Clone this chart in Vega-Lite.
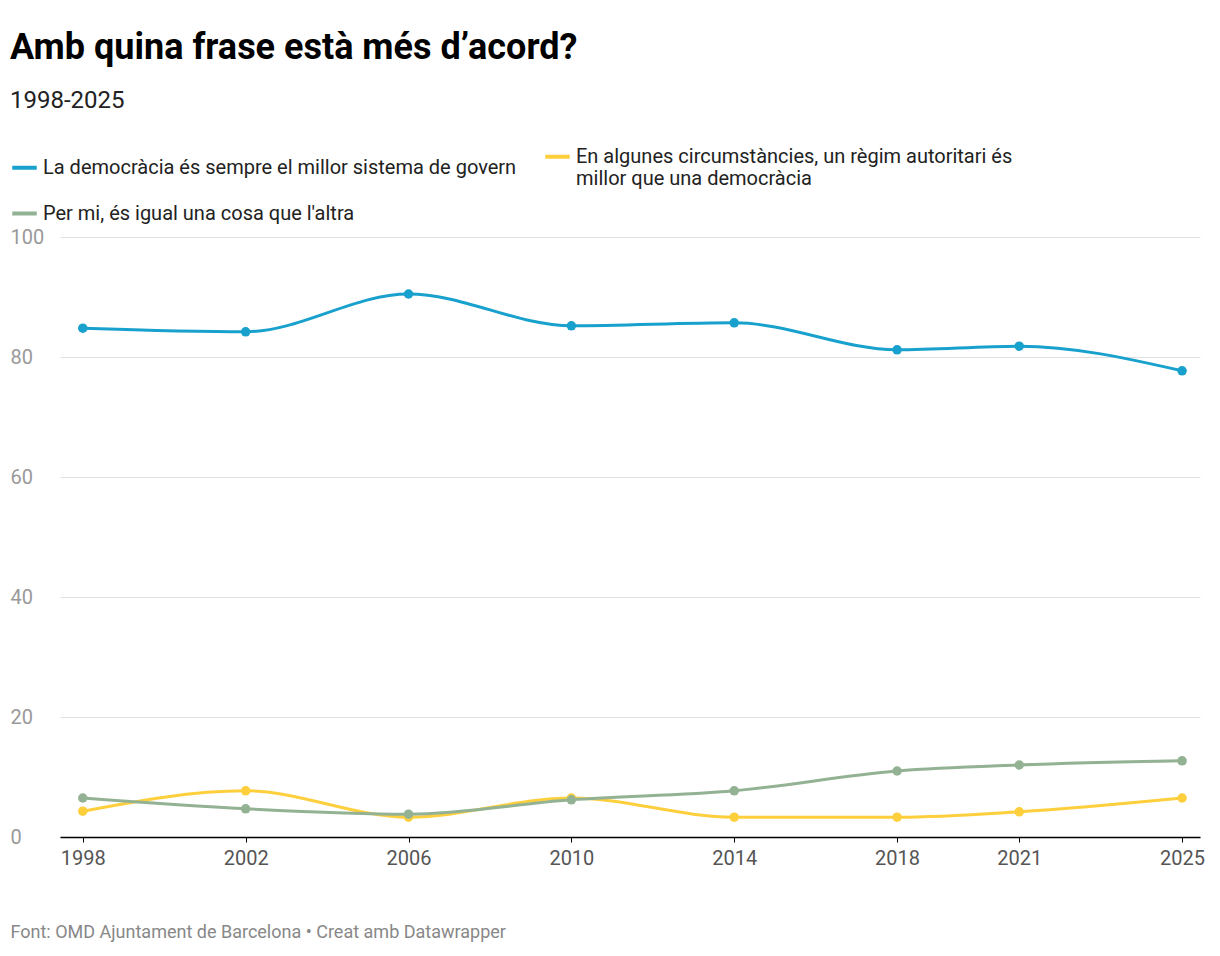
{
  "$schema": "https://vega.github.io/schema/vega-lite/v6.json",
  "autosize": "none",
  "width": 1140,
  "height": 600,
  "padding": {"left": 60, "top": 237, "right": 20, "bottom": 119},
  "background": "white",
  "config": {"view": {"stroke": null}, "font": "Roboto"},
  "title": {
    "text": "Amb quina frase està més d’acord?",
    "subtitle": "1998-2025",
    "anchor": "start",
    "frame": "group",
    "dx": -50,
    "offset": 28,
    "fontSize": 36,
    "fontWeight": "bold",
    "color": "#000",
    "subtitleFontSize": 24,
    "subtitleColor": "#222",
    "subtitlePadding": 22
  },
  "data": {
    "values": [
      {"any": 1998, "s": "La democràcia és sempre el millor sistema de govern", "v": 84.8},
      {"any": 2002, "s": "La democràcia és sempre el millor sistema de govern", "v": 84.2},
      {"any": 2006, "s": "La democràcia és sempre el millor sistema de govern", "v": 90.5},
      {"any": 2010, "s": "La democràcia és sempre el millor sistema de govern", "v": 85.2},
      {"any": 2014, "s": "La democràcia és sempre el millor sistema de govern", "v": 85.7},
      {"any": 2018, "s": "La democràcia és sempre el millor sistema de govern", "v": 81.2},
      {"any": 2021, "s": "La democràcia és sempre el millor sistema de govern", "v": 81.8},
      {"any": 2025, "s": "La democràcia és sempre el millor sistema de govern", "v": 77.7},
      {"any": 1998, "s": "En algunes circumstàncies, un règim autoritari és millor que una democràcia", "v": 4.3},
      {"any": 2002, "s": "En algunes circumstàncies, un règim autoritari és millor que una democràcia", "v": 7.7},
      {"any": 2006, "s": "En algunes circumstàncies, un règim autoritari és millor que una democràcia", "v": 3.3},
      {"any": 2010, "s": "En algunes circumstàncies, un règim autoritari és millor que una democràcia", "v": 6.5},
      {"any": 2014, "s": "En algunes circumstàncies, un règim autoritari és millor que una democràcia", "v": 3.3},
      {"any": 2018, "s": "En algunes circumstàncies, un règim autoritari és millor que una democràcia", "v": 3.3},
      {"any": 2021, "s": "En algunes circumstàncies, un règim autoritari és millor que una democràcia", "v": 4.2},
      {"any": 2025, "s": "En algunes circumstàncies, un règim autoritari és millor que una democràcia", "v": 6.5},
      {"any": 1998, "s": "Per mi, és igual una cosa que l'altra", "v": 6.5},
      {"any": 2002, "s": "Per mi, és igual una cosa que l'altra", "v": 4.7},
      {"any": 2006, "s": "Per mi, és igual una cosa que l'altra", "v": 3.8},
      {"any": 2010, "s": "Per mi, és igual una cosa que l'altra", "v": 6.2},
      {"any": 2014, "s": "Per mi, és igual una cosa que l'altra", "v": 7.7},
      {"any": 2018, "s": "Per mi, és igual una cosa que l'altra", "v": 11.0},
      {"any": 2021, "s": "Per mi, és igual una cosa que l'altra", "v": 12.0},
      {"any": 2025, "s": "Per mi, és igual una cosa que l'altra", "v": 12.7}
    ]
  },
  "encoding": {
    "x": {
      "field": "any", "type": "quantitative",
      "scale": {"domain": [1997.44, 2025.44], "nice": false, "zero": false},
      "axis": {
        "values": [1998, 2002, 2006, 2010, 2014, 2018, 2021, 2025],
        "format": "d", "grid": false, "domainColor": "#000", "domainWidth": 1.5,
        "tickColor": "#000", "tickSize": 5, "labelFontSize": 20, "labelColor": "#555",
        "labelPadding": 6,
        "title": "Font: OMD Ajuntament de Barcelona • Creat amb Datawrapper",
        "titleAnchor": "start", "titleX": -50, "titleY": 86, "titleAlign": "left",
        "titleFontSize": 18, "titleFontWeight": "normal", "titleColor": "#888"
      }
    },
    "y": {
      "field": "v", "type": "quantitative",
      "scale": {"domain": [0, 100], "nice": false},
      "axis": {
        "values": [0, 20, 40, 60, 80, 100], "title": null, "domain": false, "ticks": false,
        "gridColor": "#e0e0e0", "labelFontSize": 20, "labelColor": "#999",
        "labelAlign": "left", "labelPadding": 50, "labelBaseline": "middle"
      }
    },
    "color": {
      "field": "s", "type": "nominal",
      "sort": [
        "La democràcia és sempre el millor sistema de govern",
        "En algunes circumstàncies, un règim autoritari és millor que una democràcia",
        "Per mi, és igual una cosa que l'altra"
      ],
      "scale": {"range": ["#18a1cd", "#fecf3d", "#93b293"]},
      "legend": {
        "title": null, "orient": "none", "legendX": -50, "legendY": -95,
        "direction": "horizontal", "columns": 2, "symbolType": "stroke",
        "symbolStrokeWidth": 4, "symbolSize": 600, "labelFontSize": 20,
        "labelColor": "#222", "labelLimit": 700, "rowPadding": 10, "columnPadding": 20,
        "labelExpr": "indexof(datum.label, 'règim') > 0 ? ['En algunes circumstàncies, un règim autoritari és', 'millor que una democràcia'] : datum.label"
      }
    }
  },
  "layer": [
    {"mark": {"type": "line", "interpolate": "monotone", "strokeWidth": 3}},
    {"mark": {"type": "point", "filled": true, "size": 90, "opacity": 1}}
  ]
}
